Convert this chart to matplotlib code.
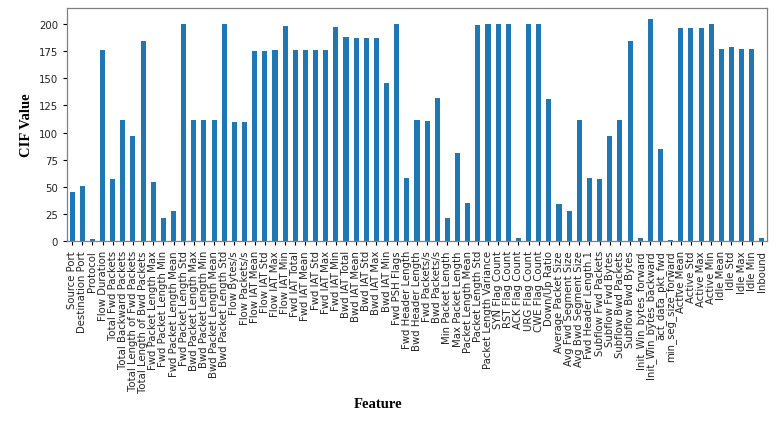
import matplotlib

matplotlib.use("Agg")
import matplotlib.pyplot as plt
import numpy as np

features = [
    "Source Port", "Destination Port", "Protocol", "Flow Duration",
    "Total Fwd Packets", "Total Backward Packets",
    "Total Length of Fwd Packets", "Total Length of Bwd Packets",
    "Fwd Packet Length Max", "Fwd Packet Length Min", "Fwd Packet Length Mean",
    "Fwd Packet Length Std", "Bwd Packet Length Max", "Bwd Packet Length Min",
    "Bwd Packet Length Mean", "Bwd Packet Length Std", "Flow Bytes/s",
    "Flow Packets/s", "Flow IAT Mean", "Flow IAT Std", "Flow IAT Max",
    "Flow IAT Min", "Fwd IAT Total", "Fwd IAT Mean", "Fwd IAT Std",
    "Fwd IAT Max", "Fwd IAT Min", "Bwd IAT Total", "Bwd IAT Mean",
    "Bwd IAT Std", "Bwd IAT Max", "Bwd IAT Min", "Fwd PSH Flags",
    "Fwd Header Length", "Bwd Header Length", "Fwd Packets/s",
    "Bwd Packets/s", "Min Packet Length", "Max Packet Length",
    "Packet Length Mean", "Packet Length Std", "Packet Length Variance",
    "SYN Flag Count", "RST Flag Count", "ACK Flag Count", "URG Flag Count",
    "CWE Flag Count", "Down/Up Ratio", "Average Packet Size",
    "Avg Fwd Segment Size", "Avg Bwd Segment Size", "Fwd Header Length.1",
    "Subflow Fwd Packets", "Subflow Fwd Bytes", "Subflow Bwd Packets",
    "Subflow Bwd Bytes", "Init_Win_bytes_forward", "Init_Win_bytes_backward",
    "act_data_pkt_fwd", "min_seg_size_forward", "Active Mean", "Active Std",
    "Active Max", "Active Min", "Idle Mean", "Idle Std", "Idle Max",
    "Idle Min", "Inbound",
]

cif_values = [
    45, 51, 2, 176, 57, 112, 97, 184, 54, 21.5, 27.6, 200, 112, 112, 112,
    200.5, 110, 109.5, 175.5, 175.5, 176, 198.5, 176, 176, 176, 176, 197.5,
    188, 187, 187, 187, 145.7, 200.5, 58, 111.7, 110.7, 132, 21.5, 81, 35,
    199, 199.7, 200.5, 200.5, 2.8, 199.7, 199.7, 131, 33.7, 27.6, 112, 58,
    57.4, 97, 111.3, 184, 2.8, 204.6, 85, 1.2, 196.6, 196.6, 196.6, 199.7,
    176.7, 178.5, 176.7, 176.7, 2.8,
]

fig = plt.figure(figsize=(7.79, 4.31), dpi=100)
ax = fig.add_axes([67 / 779, 1 - 242 / 431, 700 / 779, 233 / 431])

x = np.arange(len(features))
ax.bar(x, cif_values, width=0.5, color="#1f77b4")
ax.set_xlim(-0.5, len(features) - 0.5)
ax.set_ylim(0, 214.8)
ax.set_yticks(np.arange(0, 201, 25))
ax.set_xticks(x)
ax.set_xticklabels(features, rotation=90, fontsize=7.3, color="#222222")
ax.tick_params(axis="y", labelsize=7.3, labelcolor="#222222")
ax.tick_params(length=3, width=0.8)

for spine in ax.spines.values():
    spine.set_color("#808080")
    spine.set_linewidth(0.9)

serif = ["Liberation Serif", "DejaVu Serif"]
ax.set_ylabel("CIF Value", fontsize=10.5, fontweight="bold", family=serif)
ax.yaxis.set_label_coords(-0.048, 0.5)
ax.set_xlabel("Feature", fontsize=10.5, fontweight="bold", family=serif)
ax.xaxis.set_label_coords((378 - 67) / 700, (242 - 398) / 233)

fig.savefig("out.png", dpi=100, facecolor="white")
